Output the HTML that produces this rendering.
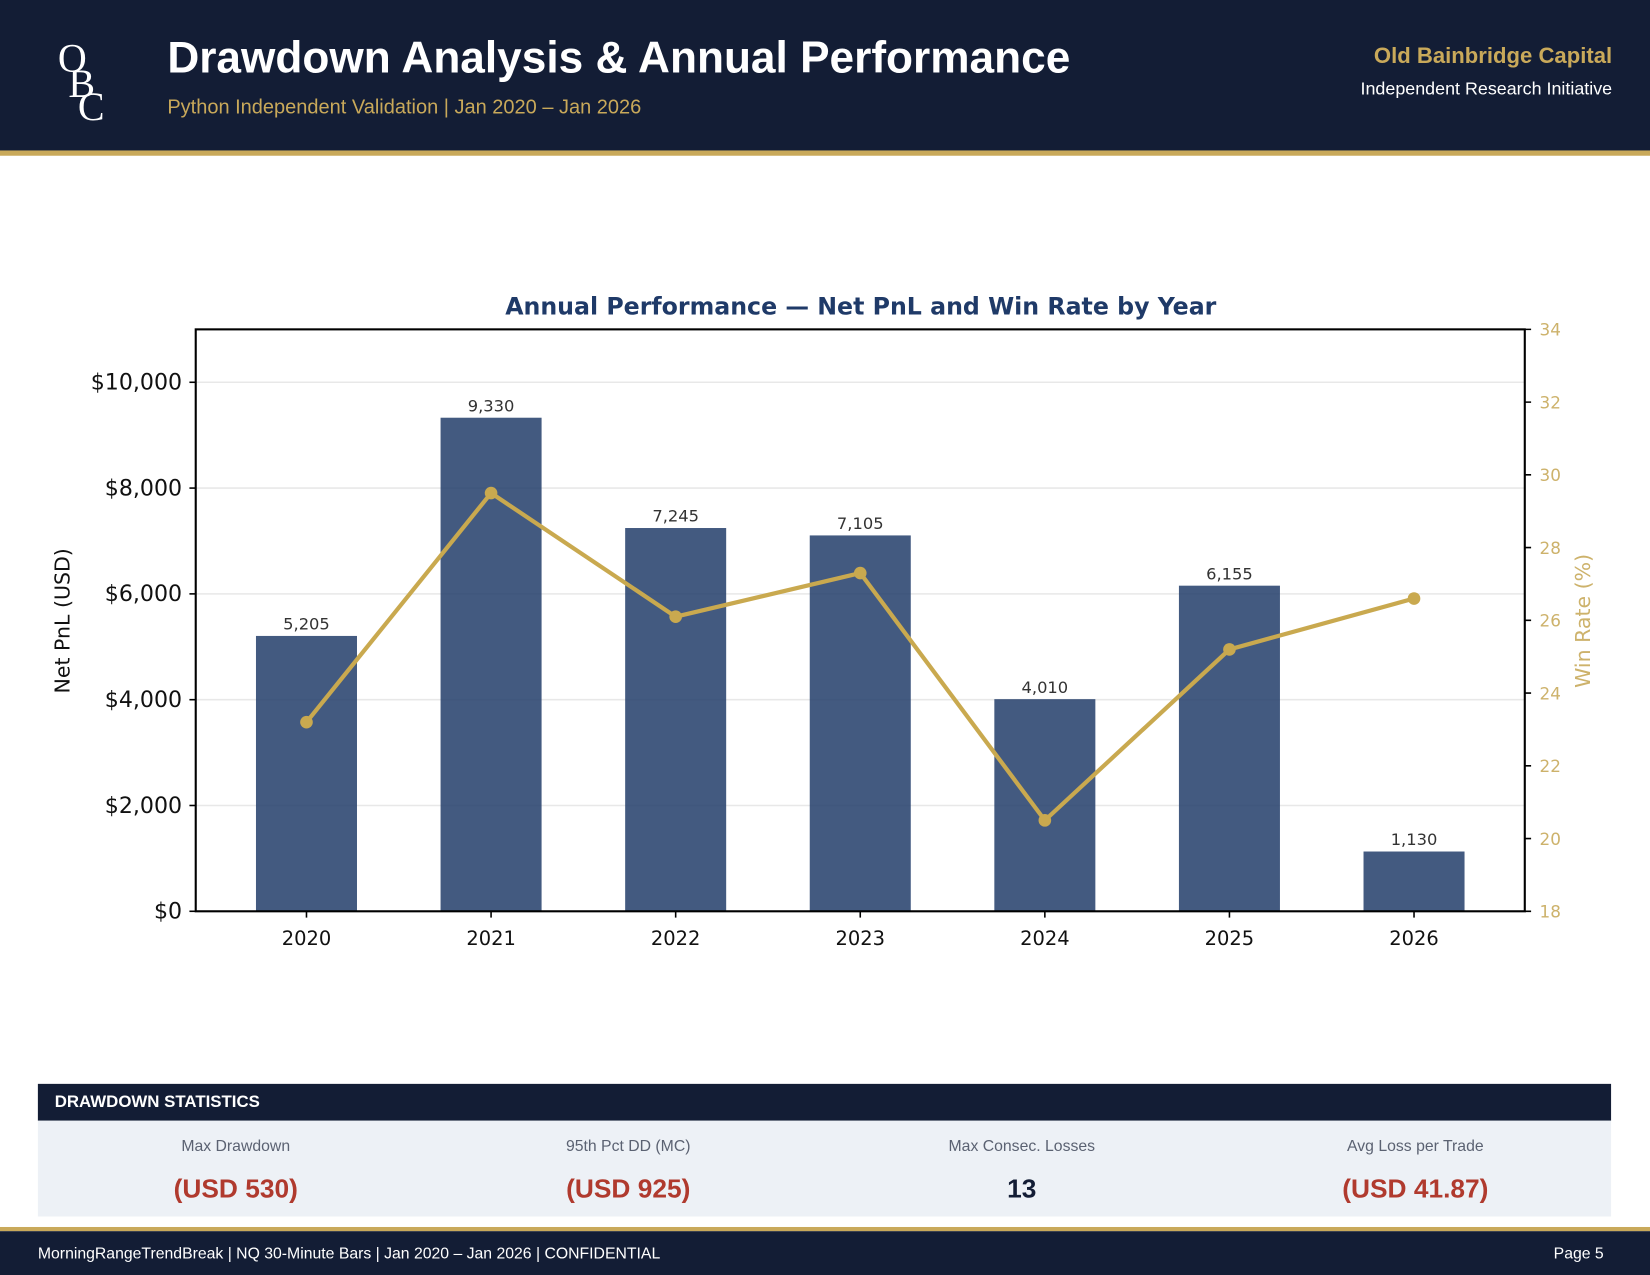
<!DOCTYPE html>
<html><head><meta charset="utf-8">
<style>
html,body{margin:0;padding:0;width:1650px;height:1275px;overflow:hidden;background:#fff;}
#wrap{position:absolute;left:0;top:0;width:1568px;height:1212px;transform:scale(1.05230);transform-origin:0 0;font-family:"Liberation Sans",sans-serif;}
.abs{position:absolute;}
</style></head>
<body>
<div id="wrap">
  <div class="abs" style="left:0;top:0;width:1568px;height:143px;background:#131d35;"></div>
  <div class="abs" style="left:0;top:143px;width:1568px;height:5px;background:#c9a95a;"></div>
  <div class="abs" style="left:52px;top:34px;width:60px;height:84px;color:#fff;font-family:'Liberation Serif',serif;font-size:38px;">
    <span class="abs" style="left:3px;top:0;">O</span><span class="abs" style="left:13px;top:24px;">B</span><span class="abs" style="left:22px;top:46px;">C</span>
  </div>
  <div class="abs" style="left:159px;top:31px;color:#fff;font-weight:bold;font-size:42px;">Drawdown Analysis &amp; Annual Performance</div>
  <div class="abs" style="left:159px;top:92px;color:#c9a95a;font-size:19px;">Python Independent Validation | Jan 2020 – Jan 2026</div>
  <div class="abs" style="right:36px;top:42px;color:#c9a95a;font-weight:bold;font-size:21px;">Old Bainbridge Capital</div>
  <div class="abs" style="right:36px;top:75px;color:#fff;font-size:17px;">Independent Research Initiative</div>

  <svg class="abs" style="left:0;top:0" width="1568" height="1000" id="chart"></svg>

  <div class="abs" style="left:36px;top:1030px;width:1495px;height:35px;background:#131d35;color:#fff;font-weight:bold;font-size:16px;line-height:35px;"><span style="padding-left:16px;">DRAWDOWN STATISTICS</span></div>
  <div class="abs" style="left:36px;top:1065px;width:1495px;height:91px;background:#edf1f6;"></div>

  <div class="abs" style="left:0;top:1166px;width:1568px;height:4px;background:#c9a95a;"></div>
  <div class="abs" style="left:0;top:1170px;width:1568px;height:42px;background:#131d35;"></div>
  <div class="abs" style="left:36px;top:1183px;color:#fff;font-size:15px;">MorningRangeTrendBreak | NQ 30-Minute Bars | Jan 2020 – Jan 2026 | CONFIDENTIAL</div>
  <div class="abs" style="right:44px;top:1183px;color:#fff;font-size:15px;">Page 5</div>
</div>
<script>
const years = ["2020","2021","2022","2023","2024","2025","2026"];
const netPnl = [5205, 9330, 7245, 7105, 4010, 6155, 1130];
const pnlLabels = ["5,205","9,330","7,245","7,105","4,010","6,155","1,130"];
const winRate = [23.2, 29.5, 26.1, 27.3, 20.5, 25.2, 26.6];
const leftTicks = [0, 2000, 4000, 6000, 8000, 10000];
const leftTickLabels = ["$0","$2,000","$4,000","$6,000","$8,000","$10,000"];
const rightTicks = [18, 20, 22, 24, 26, 28, 30, 32, 34];

const NS = "http://www.w3.org/2000/svg";
const svg = document.getElementById('chart');
const PL = 186, PR = 1449, PT = 313, PB = 866;
const xS = i => PL + (i + 0.6) / 7.2 * (PR - PL);
const yL = v => PB - v / 11000 * (PB - PT);
const yR = v => PB - (v - 18) / 16 * (PB - PT);
const bw = 96 / 175.4;
function mk(tag, attrs, text) {
  const e = document.createElementNS(NS, tag);
  for (const k in attrs) e.setAttribute(k, attrs[k]);
  if (text !== undefined) e.textContent = text;
  svg.appendChild(e);
  return e;
}
const F = "DejaVu Sans, sans-serif";
let t = mk('text', {x: 818, y: 299, 'text-anchor': 'middle', 'font-family': F, 'font-size': 22.5, 'font-weight': 'bold', fill: '#1f3a68'}, 'Annual Performance — Net PnL and Win Rate by Year');


leftTicks.forEach((v, i) => {
  const y = yL(v);
  if (v > 0) {
    const g = mk('line', {x1: PL, x2: PR, y1: y, y2: y, stroke: '#e8e8e8', 'stroke-width': 1.5});
    
    
  }
  mk('line', {x1: PL - 6, x2: PL, y1: y, y2: y, stroke: '#000', 'stroke-width': 1.5});
  const l = mk('text', {x: PL - 13, y: y + 7, 'text-anchor': 'end', 'font-family': F, 'font-size': 21, fill: '#111'}, leftTickLabels[i]);
  
  
});
rightTicks.forEach(v => {
  const y = yR(v);
  mk('line', {x1: PR, x2: PR + 6, y1: y, y2: y, stroke: '#000', 'stroke-width': 1.5});
  const l = mk('text', {x: PR + 14, y: y + 6, 'font-family': F, 'font-size': 16, fill: '#cdb26b'}, String(v));
  
  
});
years.forEach((yr, i) => {
  const x = xS(i), w = bw * 175.4;
  const b = mk('rect', {x: x - w / 2, y: yL(netPnl[i]), width: w, height: PB - yL(netPnl[i]), fill: '#1f3a68', 'fill-opacity': 0.84});
  
  
  const v = mk('text', {x: x, y: yL(netPnl[i]) - 6, 'text-anchor': 'middle', 'font-family': F, 'font-size': 15.5, fill: '#333'}, pnlLabels[i]);
  
  
  mk('line', {x1: x, x2: x, y1: PB, y2: PB + 6, stroke: '#000', 'stroke-width': 1.5});
  const xl = mk('text', {x: x, y: PB + 32, 'text-anchor': 'middle', 'font-family': F, 'font-size': 18.5, fill: '#111'}, yr);
  
  
});
const pts = winRate.map((w, i) => xS(i) + ',' + yR(w)).join(' ');
const pl = mk('polyline', {points: pts, fill: 'none', stroke: '#c9a94f', 'stroke-width': 4, 'stroke-linejoin': 'round'});


winRate.forEach((w, i) => {
  const c = mk('circle', {cx: xS(i), cy: yR(w), r: 6, fill: '#c9a94f'});
  
  
});
const fr = mk('rect', {x: PL, y: PT, width: PR - PL, height: PB - PT, fill: 'none', stroke: '#000', 'stroke-width': 2});


const yt = mk('text', {x: 66, y: 590, 'text-anchor': 'middle', 'font-family': F, 'font-size': 19.5, fill: '#111', transform: 'rotate(-90 66 590)'}, 'Net PnL (USD)');


const yt2 = mk('text', {x: 1511, y: 590, 'text-anchor': 'middle', 'font-family': F, 'font-size': 19.5, fill: '#cdb26b', transform: 'rotate(-90 1511 590)'}, 'Win Rate (%)');



const statLabels = ["Max Drawdown", "95th Pct DD (MC)", "Max Consec. Losses", "Avg Loss per Trade"];
const statValues = ["(USD 530)", "(USD 925)", "13", "(USD 41.87)"];
const statColors = ["#b03a2e", "#b03a2e", "#131d35", "#b03a2e"];
const statCenters = [224, 597, 971, 1345];
const host = document.getElementById('wrap');
statLabels.forEach((s, i) => {
  const a = document.createElement('div');
  a.className = 'abs';
  
  
  a.style.cssText = `left:${statCenters[i]-150}px;width:300px;top:1081px;text-align:center;color:#5b6272;font-size:15px;`;
  a.textContent = s;
  host.appendChild(a);
  const b = document.createElement('div');
  b.className = 'abs';
  
  
  b.style.cssText = `left:${statCenters[i]-150}px;width:300px;top:1116px;text-align:center;color:${statColors[i]};font-size:25px;font-weight:bold;`;
  b.textContent = statValues[i];
  host.appendChild(b);
});
</script>
</body></html>
